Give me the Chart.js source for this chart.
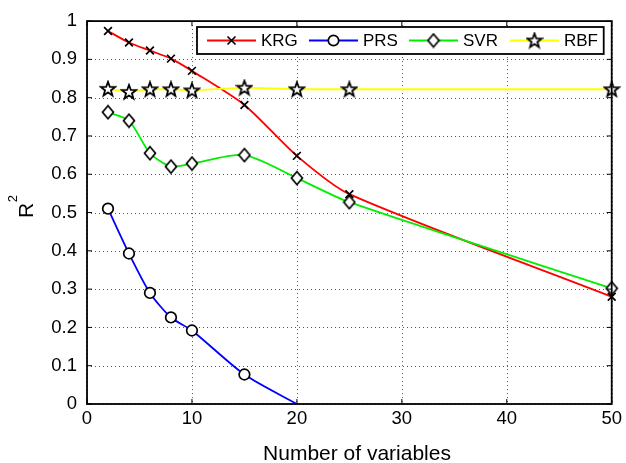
<!DOCTYPE html>
<html>
<head>
    <title>R2 vs number of variables</title>
    <script src="https://cdn.jsdelivr.net/npm/chart.js"></script>
    <style>
        html, body { margin: 0; padding: 0; background: #fff; }
        .chart-container { position: relative; width: 626px; height: 463px; }
    </style>
</head>
<body>
    <div class="chart-container">
        <canvas id="r2Chart"></canvas>
    </div>

    <script>
        // Data
        const xValues = [2, 4, 6, 8, 10, 15, 20, 25, 50];
        const krgValues = [0.974, 0.944, 0.923, 0.902, 0.870, 0.781, 0.648, 0.548, 0.280];
        const prsValues = [0.510, 0.393, 0.290, 0.226, 0.192, 0.077, 0.000];
        const svrValues = [0.762, 0.740, 0.655, 0.620, 0.628, 0.650, 0.590, 0.527, 0.302];
        const rbfValues = [0.823, 0.815, 0.822, 0.822, 0.819, 0.826, 0.822, 0.822, 0.822];
        const seriesNames = ['KRG', 'PRS', 'SVR', 'RBF'];
        const seriesColors = ['#ff0000', '#0000ff', '#00ee00', '#ffff00'];
        const xTickStep = 10;
        const yTickStep = 0.1;
        const xTitle = 'Number of variables';

        const FONT = "'Liberation Sans', Arial, sans-serif";

        function toPoints(values) {
            return values.map((v, i) => ({ x: xValues[i], y: v }));
        }

        // Custom marker images (MATLAB style diamond and pentagram)
        function makeDiamond() {
            const c = document.createElement('canvas');
            c.width = 14; c.height = 16;
            const g = c.getContext('2d');
            g.beginPath();
            g.moveTo(7, 1.5); g.lineTo(12.5, 8); g.lineTo(7, 14.5); g.lineTo(1.5, 8);
            g.closePath();
            g.fillStyle = '#fff'; g.fill();
            g.lineWidth = 1.7; g.strokeStyle = '#000'; g.stroke();
            return c;
        }

        function makeStar() {
            const c = document.createElement('canvas');
            c.width = 18; c.height = 18;
            const g = c.getContext('2d');
            const cx = 9, cy = 9.5, ro = 7.5, ri = 3.1;
            g.beginPath();
            for (let i = 0; i < 10; i++) {
                const r = i % 2 === 0 ? ro : ri;
                const a = -Math.PI / 2 + i * Math.PI / 5;
                const px = cx + r * Math.cos(a), py = cy + r * Math.sin(a);
                if (i === 0) g.moveTo(px, py); else g.lineTo(px, py);
            }
            g.closePath();
            g.fillStyle = '#fff'; g.fill();
            g.lineWidth = 1.8; g.strokeStyle = '#000'; g.stroke();
            return c;
        }

        const diamondImg = makeDiamond();
        const starImg = makeStar();

        // dotted grid behind the lines
        const gridPlugin = {
            id: 'dottedGrid',
            beforeDatasetsDraw(chart) {
                const { ctx, chartArea: a, scales } = chart;
                ctx.save();
                ctx.strokeStyle = '#555';
                ctx.lineWidth = 1;
                ctx.setLineDash([1, 3]);
                scales.x.ticks.forEach(t => {
                    const px = Math.round(scales.x.getPixelForValue(t.value)) + 0.5;
                    ctx.beginPath();
                    ctx.moveTo(px, a.top); ctx.lineTo(px, a.bottom);
                    ctx.stroke();
                });
                scales.y.ticks.forEach(t => {
                    const py = Math.round(scales.y.getPixelForValue(t.value)) + 0.5;
                    ctx.beginPath();
                    ctx.moveTo(a.left, py); ctx.lineTo(a.right, py);
                    ctx.stroke();
                });
                ctx.restore();
            }
        };

        // axis box with inward ticks, plus the axis titles
        const boxPlugin = {
            id: 'box',
            afterDatasetsDraw(chart) {
                const { ctx, chartArea: a, scales } = chart;
                ctx.save();
                ctx.strokeStyle = '#000';
                ctx.lineWidth = 1.8;
                ctx.strokeRect(a.left, a.top, a.right - a.left, a.bottom - a.top);
                ctx.lineWidth = 1;
                const len = 5;
                scales.x.ticks.forEach(t => {
                    const px = scales.x.getPixelForValue(t.value);
                    ctx.beginPath();
                    ctx.moveTo(px, a.bottom); ctx.lineTo(px, a.bottom - len);
                    ctx.moveTo(px, a.top); ctx.lineTo(px, a.top + len);
                    ctx.stroke();
                });
                scales.y.ticks.forEach(t => {
                    const py = scales.y.getPixelForValue(t.value);
                    ctx.beginPath();
                    ctx.moveTo(a.left, py); ctx.lineTo(a.left + len, py);
                    ctx.moveTo(a.right, py); ctx.lineTo(a.right - len, py);
                    ctx.stroke();
                });

                // x title
                ctx.fillStyle = '#000';
                ctx.font = '21px ' + FONT;
                ctx.textAlign = 'center';
                ctx.textBaseline = 'alphabetic';
                ctx.fillText(xTitle, 357, 460);

                // y title: R with a superscript 2, rotated
                ctx.translate(33, 218);
                ctx.rotate(-Math.PI / 2);
                ctx.textAlign = 'left';
                ctx.font = '21px ' + FONT;
                ctx.fillText('R', 0, 0);
                const rw = ctx.measureText('R').width;
                ctx.font = '13px ' + FONT;
                ctx.fillText('2', rw + 0.5, -16);
                ctx.restore();
            }
        };

        // legend box in the upper right, line with marker for each series
        const legendPlugin = {
            id: 'matlabLegend',
            afterDraw(chart) {
                const ctx = chart.ctx;
                const a = chart.chartArea;
                const boxLeft = 197, boxTop = 27, boxRight = a.right - 8, boxBottom = 54;
                const midY = (boxTop + boxBottom) / 2;
                ctx.save();
                ctx.fillStyle = '#fff';
                ctx.fillRect(boxLeft, boxTop, boxRight - boxLeft, boxBottom - boxTop);
                ctx.strokeStyle = '#000';
                ctx.lineWidth = 1.8;
                ctx.strokeRect(boxLeft, boxTop, boxRight - boxLeft, boxBottom - boxTop);

                const starts = [207, 309, 409, 510];
                ctx.font = '17px ' + FONT;
                ctx.textBaseline = 'middle';
                ctx.textAlign = 'left';
                seriesNames.forEach((name, i) => {
                    const x0 = starts[i], x1 = x0 + 49, xm = (x0 + x1) / 2;
                    ctx.strokeStyle = seriesColors[i];
                    ctx.lineWidth = 1.8;
                    ctx.beginPath();
                    ctx.moveTo(x0, midY); ctx.lineTo(x1, midY);
                    ctx.stroke();
                    ctx.strokeStyle = '#000';
                    ctx.lineWidth = 1.7;
                    if (i === 0) {
                        const d = 4;
                        ctx.beginPath();
                        ctx.moveTo(xm - d, midY - d); ctx.lineTo(xm + d, midY + d);
                        ctx.moveTo(xm + d, midY - d); ctx.lineTo(xm - d, midY + d);
                        ctx.stroke();
                    } else if (i === 1) {
                        ctx.beginPath();
                        ctx.arc(xm, midY, 5.2, 0, Math.PI * 2);
                        ctx.fillStyle = '#fff'; ctx.fill(); ctx.stroke();
                    } else if (i === 2) {
                        ctx.drawImage(diamondImg, xm - diamondImg.width / 2, midY - diamondImg.height / 2);
                    } else {
                        ctx.drawImage(starImg, xm - starImg.width / 2, midY - starImg.height / 2);
                    }
                    ctx.fillStyle = '#000';
                    ctx.fillText(name, x1 + 5, midY + 1);
                });
                ctx.restore();
            }
        };

        const common = {
            borderWidth: 1.8,
            tension: 0.25,
            pointBorderColor: '#000',
            pointBackgroundColor: '#fff',
            pointBorderWidth: 1.7,
            clip: false,
            fill: false
        };

        const ctx = document.getElementById('r2Chart').getContext('2d');
        const chart = new Chart(ctx, {
            type: 'line',
            data: {
                datasets: [
                    Object.assign({}, common, {
                        label: seriesNames[3], data: toPoints(rbfValues), tension: 0,
                        borderColor: seriesColors[3], pointStyle: starImg, pointRadius: 6, order: 1
                    }),
                    Object.assign({}, common, {
                        label: seriesNames[2], data: toPoints(svrValues),
                        borderColor: seriesColors[2], pointStyle: diamondImg, pointRadius: 6, order: 2
                    }),
                    Object.assign({}, common, {
                        label: seriesNames[1], data: toPoints(prsValues),
                        borderColor: seriesColors[1], pointStyle: 'circle',
                        pointRadius: c => (c.raw && c.raw.y <= 0 ? 0 : 5.3), order: 3
                    }),
                    Object.assign({}, common, {
                        label: seriesNames[0], data: toPoints(krgValues),
                        borderColor: seriesColors[0], pointStyle: 'crossRot', pointRadius: 5.5, order: 4
                    })
                ]
            },
            options: {
                responsive: true,
                maintainAspectRatio: false,
                animation: false,
                layout: { padding: { left: 0, right: 12, top: 19, bottom: 0 } },
                plugins: {
                    legend: { display: false },
                    tooltip: { enabled: false }
                },
                scales: {
                    x: {
                        type: 'linear',
                        min: 0, max: 50,
                        afterFit: s => { s.height = 59; },
                        ticks: {
                            stepSize: xTickStep,
                            color: '#000',
                            padding: 4,
                            maxRotation: 0,
                            font: { family: FONT, size: 18.5 }
                        },
                        grid: { display: false, drawTicks: false },
                        border: { display: false },
                        title: { display: false }
                    },
                    y: {
                        min: 0, max: 1,
                        afterFit: s => { s.width = 87; },
                        ticks: {
                            stepSize: yTickStep,
                            color: '#000',
                            padding: 10,
                            font: { family: FONT, size: 18.5 },
                            callback: v => String(Math.round(v * 10) / 10)
                        },
                        grid: { display: false, drawTicks: false },
                        border: { display: false },
                        title: { display: false }
                    }
                }
            },
            plugins: [gridPlugin, boxPlugin, legendPlugin]
        });
    </script>
</body>
</html>
